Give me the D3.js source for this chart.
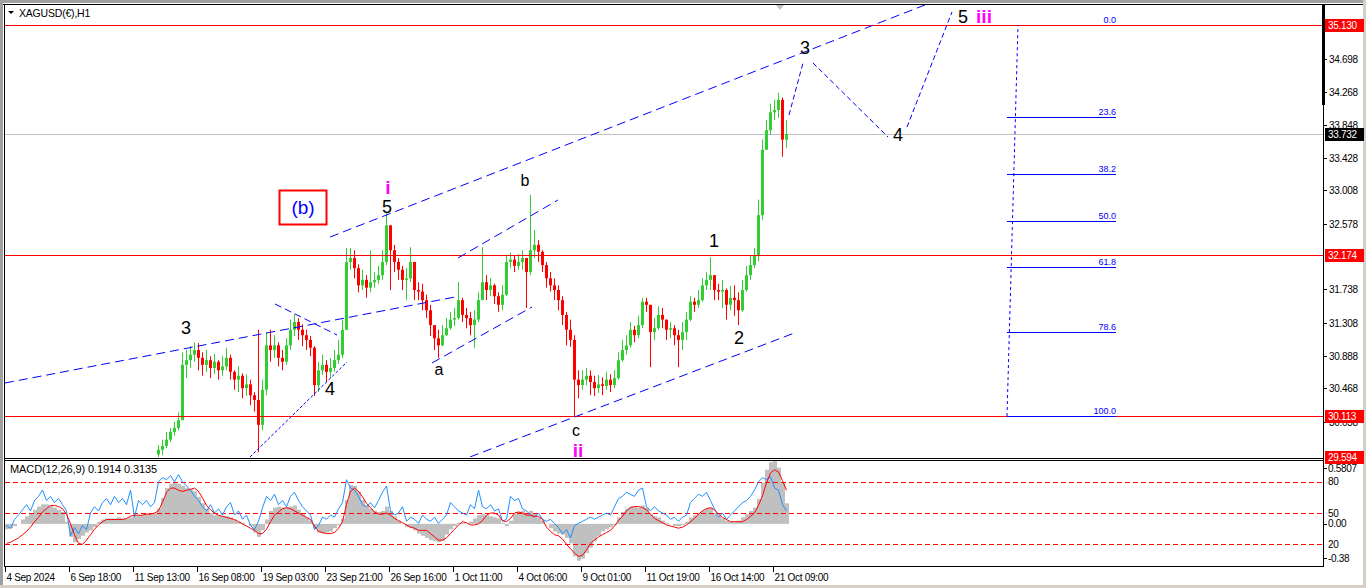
<!DOCTYPE html>
<html><head><meta charset="utf-8">
<script src="https://cdn.jsdelivr.net/npm/d3@7"></script>
<style>
body{margin:0;background:#fff;overflow:hidden}
svg{display:block;font-family:"Liberation Sans",Arial,sans-serif}
</style>
</head><body>
<svg id="c" width="1366" height="588"></svg>
<script>
// ---------------- DATA ----------------
const symbolTitle = "XAGUSD(€),H1";
const macdTitle = "MACD(12,26,9) 0.1914 0.3135";
const priceStartSlot = 38;     // slot of first visible H1 candle
const firstOpen = 29.62;

const close = [
29.68,29.73,29.81,29.91,29.96,30.06,30.77,30.83,30.90,30.96,
30.86,30.77,30.83,30.73,30.81,30.70,30.75,30.86,30.68,30.58,
30.63,30.47,30.52,30.38,30.32,30.00,30.45,31.02,30.96,31.02,
30.86,30.81,31.02,31.22,31.32,31.22,31.15,31.09,30.99,30.51,
30.70,30.77,30.68,30.73,30.83,30.90,31.22,32.09,32.14,32.01,
31.79,31.86,31.76,31.83,31.86,31.92,32.09,32.56,32.24,32.09,
31.99,31.86,31.88,32.09,31.73,31.71,31.60,31.47,31.28,31.11,
31.02,31.15,31.24,31.35,31.37,31.60,31.41,31.37,31.28,31.35,
31.60,31.83,31.73,31.79,31.65,31.54,31.67,32.09,32.12,32.04,
32.09,32.14,31.96,32.24,32.31,32.22,32.05,31.88,31.79,31.73,
31.60,31.41,31.22,31.09,30.58,30.51,30.58,30.63,30.55,30.47,
30.52,30.50,30.58,30.51,30.60,30.83,30.96,31.02,31.22,31.15,
31.28,31.58,31.54,31.19,31.24,31.41,31.35,31.22,31.24,31.15,
31.09,31.19,31.35,31.58,31.54,31.60,31.79,31.86,31.92,31.73,
31.71,31.73,31.54,31.63,31.60,31.47,31.73,31.92,32.05,32.18,
32.69,33.53,33.78,34.01,34.04,34.17,33.66,33.73];
const high = [
29.74,29.81,29.91,29.96,30.04,30.16,30.93,30.96,31.01,31.06,
31.05,30.93,30.96,30.88,30.91,30.83,30.88,30.99,30.90,30.70,
30.75,30.66,30.65,30.58,30.42,31.22,30.58,31.19,31.22,31.15,
31.06,30.96,31.11,31.35,31.42,31.37,31.29,31.22,31.14,31.01,
30.81,30.90,30.83,30.86,30.96,31.09,31.35,32.27,32.27,32.24,
32.06,31.99,31.92,32.24,31.96,32.04,32.24,32.72,32.56,32.31,
32.14,32.04,32.01,32.28,32.09,31.83,31.81,31.67,31.54,31.28,
31.22,31.28,31.37,31.45,31.50,31.83,31.63,31.50,31.45,31.47,
31.70,32.28,31.92,31.88,31.81,31.70,31.79,32.18,32.21,32.17,
32.19,32.24,32.14,32.95,32.50,32.37,32.24,32.09,31.96,31.88,
31.79,31.65,31.45,31.35,31.15,30.70,30.70,30.73,30.70,30.63,
30.64,30.61,30.68,30.65,30.70,30.93,31.09,31.15,31.32,31.27,
31.40,31.63,31.63,31.54,31.37,31.52,31.50,31.35,31.32,31.28,
31.22,31.32,31.45,31.65,31.63,31.73,31.88,31.96,32.15,31.92,
31.81,31.86,31.75,31.78,31.79,31.70,31.86,32.04,32.18,32.27,
32.89,33.66,33.91,34.12,34.17,34.26,34.20,33.91];
const low = [
29.55,29.61,29.70,29.78,29.86,29.93,30.06,30.60,30.73,30.81,
30.70,30.63,30.68,30.60,30.65,30.58,30.63,30.70,30.58,30.45,
30.42,30.34,30.37,30.25,30.17,29.65,29.93,30.38,30.81,30.86,
30.75,30.70,30.77,30.96,31.14,31.09,31.01,30.96,30.88,30.37,
30.42,30.64,30.55,30.60,30.68,30.78,30.86,31.22,31.99,31.88,
31.70,31.73,31.63,31.70,31.76,31.81,31.86,32.05,31.73,31.96,
31.86,31.73,31.60,31.83,31.60,31.60,31.47,31.37,31.14,30.96,
30.86,31.01,31.14,31.22,31.27,31.35,31.32,31.24,31.15,30.99,
31.32,31.60,31.60,31.65,31.55,31.45,31.47,31.65,32.01,31.96,
31.99,31.99,31.50,31.92,32.14,32.09,31.96,31.76,31.71,31.60,
31.47,31.28,31.02,31.00,30.10,30.34,30.45,30.51,30.38,30.37,
30.41,30.38,30.45,30.42,30.47,30.58,30.81,30.90,30.99,31.06,
31.11,31.24,31.45,30.74,31.09,31.22,31.24,31.09,31.11,31.02,
30.74,30.96,31.09,31.33,31.45,31.50,31.58,31.73,31.73,31.60,
31.60,31.50,31.35,31.47,31.40,31.28,31.45,31.71,31.86,32.01,
32.10,32.63,33.53,33.72,33.91,33.94,33.44,33.55];

const macdMain = [
-0.05,-0.04,-0.02,0.00,0.04,0.07,0.10,0.13,0.16,0.18,
0.18,0.17,0.15,0.13,0.11,0.02,-0.12,-0.17,-0.14,-0.11,
-0.08,-0.06,-0.03,0.02,0.04,0.05,0.05,0.05,0.06,0.05,
0.05,0.06,0.07,0.08,0.08,0.09,0.09,0.10,0.14,0.24,
0.33,0.37,0.38,0.37,0.35,0.33,0.32,0.30,0.25,0.19,
0.14,0.10,0.08,0.08,0.07,0.07,0.06,0.04,0.02,0.01,
0.00,-0.02,-0.08,-0.12,-0.06,0.04,0.12,0.15,0.16,0.15,
0.15,0.16,0.17,0.13,0.09,0.06,0.03,-0.04,-0.08,-0.09,
-0.08,-0.07,-0.04,-0.01,0.05,0.22,0.36,0.35,0.30,0.22,
0.17,0.14,0.12,0.11,0.12,0.16,0.12,0.07,0.03,0.00,
-0.03,-0.04,-0.06,-0.09,-0.11,-0.13,-0.15,-0.16,-0.17,-0.16,
-0.10,-0.05,-0.02,0.01,0.01,0.00,0.02,0.05,0.08,0.09,
0.08,0.07,0.06,0.05,0.01,-0.02,0.03,0.09,0.11,0.12,
0.10,0.12,0.09,0.06,0.03,0.00,-0.04,-0.07,-0.09,-0.10,
-0.13,-0.18,-0.30,-0.34,-0.32,-0.27,-0.22,-0.16,-0.11,-0.07,
-0.05,-0.03,-0.01,0.06,0.11,0.14,0.16,0.16,0.15,0.17,
0.15,0.09,0.07,0.06,0.03,0.01,0.00,-0.02,-0.02,-0.01,
0.02,0.06,0.08,0.10,0.12,0.14,0.15,0.10,0.07,0.05,
0.03,0.02,0.02,0.03,0.06,0.09,0.12,0.15,0.23,0.38,
0.50,0.57,0.58,0.52,0.38,0.19];
const macdSignal = [
-0.18,-0.17,-0.15,-0.13,-0.10,-0.07,-0.03,0.02,0.06,0.11,
0.14,0.17,0.17,0.16,0.14,0.09,0.00,-0.10,-0.18,-0.19,
-0.15,-0.10,-0.05,-0.01,0.02,0.04,0.04,0.04,0.04,0.04,
0.05,0.07,0.08,0.08,0.08,0.09,0.09,0.10,0.12,0.20,
0.29,0.33,0.33,0.31,0.30,0.31,0.32,0.33,0.30,0.24,
0.17,0.13,0.10,0.08,0.07,0.06,0.05,0.04,0.02,0.00,
-0.02,-0.04,-0.06,-0.09,-0.09,-0.05,0.02,0.08,0.11,0.14,
0.15,0.14,0.12,0.10,0.08,0.06,0.04,-0.02,-0.07,-0.08,
-0.09,-0.09,-0.08,-0.04,0.02,0.18,0.30,0.33,0.30,0.25,
0.19,0.15,0.11,0.09,0.09,0.10,0.08,0.05,0.03,0.01,
-0.01,-0.03,-0.04,-0.06,-0.06,-0.06,-0.09,-0.12,-0.15,-0.15,
-0.13,-0.09,-0.05,-0.01,0.02,0.01,-0.01,-0.01,0.00,0.03,
0.08,0.10,0.10,0.08,0.03,0.02,0.05,0.10,0.11,0.10,
0.08,0.08,0.07,0.07,0.04,-0.03,-0.07,-0.10,-0.11,-0.14,
-0.19,-0.23,-0.27,-0.30,-0.29,-0.24,-0.18,-0.15,-0.12,-0.10,
-0.08,-0.06,-0.02,0.03,0.07,0.12,0.15,0.16,0.16,0.15,
0.13,0.09,0.05,0.03,0.01,-0.01,-0.02,-0.03,-0.04,-0.03,
-0.01,0.02,0.05,0.09,0.12,0.14,0.15,0.13,0.09,0.06,
0.04,0.02,0.02,0.02,0.02,0.04,0.07,0.10,0.17,0.26,
0.38,0.47,0.50,0.48,0.40,0.31];
const oscLine = [
38,35,44,48,53,58,52,62,66,72,
62,66,60,64,58,52,28,36,30,38,
34,50,56,52,60,64,58,66,60,64,
58,72,46,62,58,62,56,60,80,84,
82,86,80,87,80,76,72,66,62,56,
52,58,50,54,48,56,60,48,52,44,
48,38,34,42,55,66,62,68,58,62,
56,66,70,62,56,52,48,34,38,46,
44,48,46,54,60,82,74,72,66,58,
56,60,55,62,70,76,52,48,50,56,
42,46,44,40,48,44,42,46,40,44,
48,60,56,52,50,48,58,54,72,56,
54,58,52,54,42,44,66,62,64,54,
52,48,46,50,44,42,44,40,36,30,
34,26,38,40,42,44,46,44,46,48,
50,48,56,64,66,70,68,66,72,74,
56,52,56,52,50,48,44,46,42,46,
48,60,64,68,66,70,62,54,46,50,
44,48,52,56,60,62,66,72,80,84,
82,85,74,72,58,52];

const priceTicks = [34.698,34.268,33.848,33.428,33.008,32.578,31.738,31.308,30.888,30.468,30.038];
const redLevels = [35.130, 32.174, 30.113, 29.594];
const bidPrice = 33.732;
const timeLabels = ["4 Sep 2024","6 Sep 18:00","11 Sep 13:00","16 Sep 08:00","19 Sep 03:00","23 Sep 21:00","26 Sep 16:00","1 Oct 11:00","4 Oct 06:00","9 Oct 01:00","11 Oct 19:00","16 Oct 14:00","21 Oct 09:00"];
const timeSlots = [0,16,32,48,64,80,96,112,128,144,160,176,192];
const oscLevels = [80,50,20];
const macdAxisValues = [0.5807, 0.00, -0.38];
const macdAxisText = ["0.5807","0.00","-0.38"];

const fibHigh = 35.130, fibLow = 30.113;
const fibLevels = [0, 23.6, 38.2, 50.0, 61.8, 78.6, 100.0];
const fibSlots = [250.5, 277.75];
const fibTrend = [[250.5, 30.113],[253.25, 35.130]];

// wave labels: slot, price
const waveText  = ["3","4","5","i","a","b","c","ii","1","2","3","4","5","iii"];
const waveSlot  = [45.25,81.25,95.5,95.75,108.5,130,142.75,143.25,177.25,183.5,200,223.25,239.5,244.75];
const wavePrice = [31.243,30.460,32.795,33.039,30.704,33.129,29.922,29.677,32.359,31.115,34.835,33.719,35.233,35.233];
const waveMagenta = [false,false,false,true,false,false,false,true,false,false,false,false,false,true];
const boxLabel = {text:"(b)", slot:74.5, price:32.795};

// trend lines: [[slot,price],[slot,price]], dash
const trendLines = [
  {p:[[0,30.537],[112.5,31.640]], d:"9,5"},
  {p:[[81.25,32.410],[230,35.387]], d:"9,5"},
  {p:[[116.25,29.588],[198,31.191]], d:"9,5"},
  {p:[[113.25,32.141],[138.25,32.885]], d:"9,5"},
  {p:[[106.75,30.794],[131.75,31.512]], d:"9,5"},
  {p:[[67.5,31.551],[83,31.153]], d:"7,4"},
  {p:[[61.25,29.588],[85.5,30.807]], d:"3,2"},
  {p:[[196,33.976],[199.5,34.643]], d:"5,3"},
  {p:[[202,34.643],[220.75,33.693]], d:"5,3"},
  {p:[[225.5,33.822],[236.75,35.297]], d:"5,3"}
];

// ---------------- LAYOUT ----------------
const W = 1366, H = 588;
const L = 5, R = 1323;
const mainTop = 5, mainBot = 457;
const macdTop = 461, macdBot = 565;

const svg = d3.select("#c");
const xs = d3.scaleLinear().domain([0, 1]).range([L, L + 4]);
const ys = d3.scaleLinear().domain([29.594, 35.130]).range([456.5, 25]);
const ym = d3.scaleLinear().domain([-0.38, 0.5807]).range([macdBot, macdTop]);
const yo = d3.scaleLinear().domain([0, 100]).range([macdBot, macdTop]);

svg.append("rect").attr("width", W).attr("height", H).attr("fill", "#fff");
svg.append("rect").attr("x",0).attr("y",0).attr("width",W).attr("height",3).attr("fill","#a0a0a0");
svg.append("rect").attr("x",0).attr("y",0).attr("width",3).attr("height",H).attr("fill","#a0a0a0");
svg.append("rect").attr("x",1363).attr("y",0).attr("width",3).attr("height",H).attr("fill","#d4d0c8");
svg.append("rect").attr("x",0).attr("y",585).attr("width",W).attr("height",3).attr("fill","#d4d0c8");

const defs = svg.append("defs");
defs.append("clipPath").attr("id","clipMain").append("rect")
  .attr("x",L).attr("y",mainTop).attr("width",R-L).attr("height",mainBot-mainTop);
defs.append("clipPath").attr("id","clipMacd").append("rect")
  .attr("x",L).attr("y",macdTop).attr("width",R-L).attr("height",macdBot-macdTop);

// ---------------- MAIN PANEL ----------------
const gMain = svg.append("g").attr("clip-path","url(#clipMain)");

gMain.append("line").attr("x1",L).attr("x2",R)
  .attr("y1",Math.round(ys(bidPrice))+0.5).attr("y2",Math.round(ys(bidPrice))+0.5)
  .attr("stroke","#c0c0c0");

const bars = close.map((c,i)=>{
  const o = i ? close[i-1] : firstOpen;
  return {k: priceStartSlot+i, o, c, h: Math.max(high[i],o,c), l: Math.min(low[i],o,c)};
});
const gC = gMain.append("g");
bars.forEach(b=>{
  const col = b.c >= b.o ? "#32CD32" : "#FF0000";
  const x0 = Math.round(xs(b.k));
  gC.append("line").attr("x1",x0+1.5).attr("x2",x0+1.5)
    .attr("y1",ys(b.h)).attr("y2",ys(b.l)).attr("stroke",col).attr("stroke-width",1);
  const yt = ys(Math.max(b.o,b.c)), yb = ys(Math.min(b.o,b.c));
  gC.append("rect").attr("x",x0).attr("y",yt).attr("width",3)
    .attr("height",Math.max(1,yb-yt)).attr("fill",col);
});

redLevels.forEach(v=>{
  const y = Math.round(ys(v))+0.5;
  gMain.append("line").attr("x1",L).attr("x2",R).attr("y1",y).attr("y2",y)
    .attr("stroke","#ff0000").attr("stroke-width",1);
});

const fibPrice = r => fibHigh - r/100*(fibHigh-fibLow);
fibLevels.forEach(r=>{
  const y = Math.round(ys(fibPrice(r)))+0.5;
  if (r > 0) {
    gMain.append("line").attr("x1",xs(fibSlots[0])).attr("x2",xs(fibSlots[1]))
      .attr("y1",y).attr("y2",y).attr("stroke","#0000ff");
  }
  gMain.append("text").attr("x",xs(fibSlots[1])).attr("y",y-3)
    .attr("text-anchor","end").attr("font-size","9px").attr("fill","#0000ff")
    .text(r.toFixed(1));
});
gMain.append("line")
  .attr("x1",xs(fibTrend[0][0])).attr("y1",ys(fibTrend[0][1]))
  .attr("x2",xs(fibTrend[1][0])).attr("y2",ys(fibTrend[1][1]))
  .attr("stroke","#0000ff").attr("stroke-dasharray","3,3");

trendLines.forEach(t=>{
  gMain.append("line")
    .attr("x1",xs(t.p[0][0])).attr("y1",ys(t.p[0][1]))
    .attr("x2",xs(t.p[1][0])).attr("y2",ys(t.p[1][1]))
    .attr("stroke","#0000ff").attr("stroke-width",1).attr("stroke-dasharray",t.d);
});

waveText.forEach((t,i)=>{
  const mag = waveMagenta[i];
  gMain.append("text").attr("x",xs(waveSlot[i])).attr("y",ys(wavePrice[i]))
    .attr("text-anchor","middle").attr("dominant-baseline","central")
    .attr("font-size", mag ? "19px" : (/[abc]/.test(t) ? "16px" : "18px"))
    .attr("font-weight", mag ? "bold" : "normal")
    .attr("fill", mag ? "#ff00ff" : "#000").text(t);
});
{
  const cx = xs(boxLabel.slot), cy = ys(boxLabel.price);
  gMain.append("rect").attr("x",cx-23.5).attr("y",cy-16.5).attr("width",47).attr("height",34)
    .attr("fill","none").attr("stroke","#ff0000").attr("stroke-width",2);
  gMain.append("text").attr("x",cx).attr("y",cy).attr("text-anchor","middle")
    .attr("dominant-baseline","central").attr("font-size","19px").attr("fill","#0000ff")
    .text(boxLabel.text);
}

svg.append("path").attr("d","M8,11 L14,11 L11,14 Z").attr("fill","#000");
svg.append("text").attr("x",19).attr("y",17).attr("font-size","10.5px").attr("letter-spacing","-0.2px")
  .attr("fill","#000").text(symbolTitle);
svg.append("path").attr("d","M776,5 L784,5 L780,10 Z").attr("fill","#c0c0c0");

// ---------------- MACD PANEL ----------------
const gM = svg.append("g").attr("clip-path","url(#clipMacd)");
macdMain.forEach((v,j)=>{
  const y0 = ym(0), y1 = ym(v);
  gM.append("rect").attr("x",xs(j)).attr("width",4)
    .attr("y",Math.min(y0,y1)).attr("height",Math.abs(y1-y0)).attr("fill","#c0c0c0");
});
oscLevels.forEach(v=>{
  const y = Math.round(yo(v))+0.5;
  gM.append("line").attr("x1",L).attr("x2",R).attr("y1",y).attr("y2",y)
    .attr("stroke","#ff0000").attr("stroke-dasharray","5,3");
});
gM.append("path").datum(oscLine)
  .attr("d", d3.line().x((d,j)=>xs(j)+1.5).y(d=>yo(d)))
  .attr("fill","none").attr("stroke","#1e90ff").attr("stroke-width",1);
gM.append("path").datum(macdSignal)
  .attr("d", d3.line().x((d,j)=>xs(j)+1.5).y(d=>ym(d)))
  .attr("fill","none").attr("stroke","#ff0000").attr("stroke-width",1);
svg.append("text").attr("x",10).attr("y",473).attr("font-size","11px").attr("letter-spacing","-0.1px")
  .attr("fill","#000").text(macdTitle);

// ---------------- FRAME LINES ----------------
const frame = svg.append("g").attr("stroke","#000").attr("stroke-width",1);
frame.append("line").attr("x1",3).attr("x2",1363).attr("y1",4.5).attr("y2",4.5);
frame.append("line").attr("x1",4.5).attr("x2",4.5).attr("y1",4).attr("y2",567);
frame.append("line").attr("x1",4).attr("x2",R+1).attr("y1",458.5).attr("y2",458.5);
frame.append("line").attr("x1",4).attr("x2",R+1).attr("y1",460.5).attr("y2",460.5);
frame.append("line").attr("x1",4).attr("x2",R+1).attr("y1",566.5).attr("y2",566.5);
frame.append("line").attr("x1",R+0.5).attr("x2",R+0.5).attr("y1",4).attr("y2",567);
svg.append("rect").attr("x",R-1).attr("y",5).attr("width",3).attr("height",100).attr("fill","#000");

// ---------------- PRICE AXIS ----------------
const ax = svg.append("g").attr("font-size","10px").attr("letter-spacing","-0.3px");
priceTicks.forEach(v=>{
  const y = Math.round(ys(v))+0.5;
  ax.append("line").attr("x1",R+1).attr("x2",R+4).attr("y1",y).attr("y2",y).attr("stroke","#000");
  ax.append("text").attr("x",R+6).attr("y",y).attr("dominant-baseline","central").attr("fill","#000")
    .text(v.toFixed(3));
});
function boxLabelAxis(v, bg){
  const y = Math.round(ys(v));
  ax.append("rect").attr("x",R+2).attr("y",y-6).attr("width",39).attr("height",13).attr("fill",bg);
  ax.append("text").attr("x",R+5).attr("y",y+0.5).attr("dominant-baseline","central")
    .attr("fill","#fff").text(v.toFixed(3));
}
redLevels.forEach(v=>boxLabelAxis(v,"#ff0000"));
boxLabelAxis(bidPrice,"#000");

// ---------------- MACD AXIS ----------------
macdAxisValues.forEach((v,i)=>{
  let y = ym(v);
  if (i===0) y = macdTop + 7;
  if (i===2) y = macdBot - 7;
  ax.append("text").attr("x",R+5).attr("y",y).attr("dominant-baseline","central").attr("fill","#000")
    .text(macdAxisText[i]);
  ax.append("line").attr("x1",R+1).attr("x2",R+4).attr("y1",Math.round(y)+0.5).attr("y2",Math.round(y)+0.5).attr("stroke","#000");
});
oscLevels.forEach(v=>{
  const y = yo(v);
  ax.append("text").attr("x",R+5).attr("y",y).attr("dominant-baseline","central").attr("fill","#000")
    .text(String(v));
});

// ---------------- TIME AXIS ----------------
const tx = svg.append("g").attr("font-size","10px").attr("letter-spacing","-0.3px");
timeSlots.forEach((k,i)=>{
  const x = Math.round(xs(k))+0.5;
  tx.append("line").attr("x1",x).attr("x2",x).attr("y1",567).attr("y2",572).attr("stroke","#000");
  tx.append("text").attr("x",x+1).attr("y",581).attr("fill","#000").text(timeLabels[i]);
});
</script>
</body></html>
